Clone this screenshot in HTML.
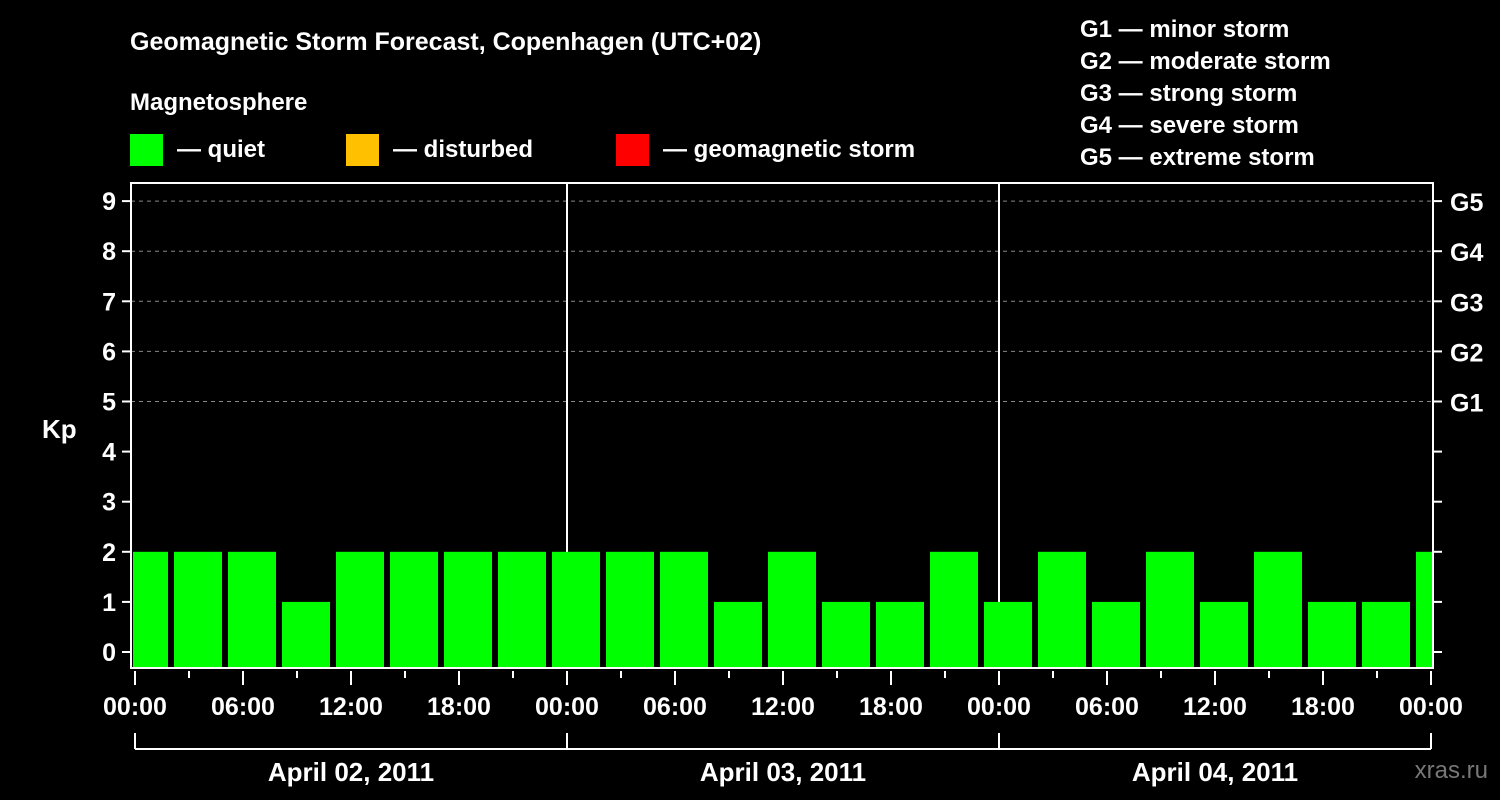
<!DOCTYPE html>
<html><head><meta charset="utf-8"><style>
body{margin:0;background:#000;}
svg{display:block;font-family:"Liberation Sans",sans-serif;font-weight:bold;}
</style></head><body>
<svg id="chart" width="1500" height="800" viewBox="0 0 1500 800">
<rect width="1500" height="800" fill="#000"/>
<text x="130" y="50" fill="#fff" font-size="25">Geomagnetic Storm Forecast, Copenhagen (UTC+02)</text>
<text x="130" y="110" fill="#fff" font-size="24">Magnetosphere</text>
<g><rect x="130" y="134" width="33" height="32" fill="#00ff00"/><text x="177" y="157" fill="#fff" font-size="24">— quiet</text></g>
<g><rect x="346" y="134" width="33" height="32" fill="#ffc000"/><text x="393" y="157" fill="#fff" font-size="24">— disturbed</text></g>
<g><rect x="616" y="134" width="33" height="32" fill="#ff0000"/><text x="663" y="157" fill="#fff" font-size="24">— geomagnetic storm</text></g>
<g fill="#fff" font-size="24">
<text x="1080" y="37">G1 — minor storm</text><text x="1080" y="69">G2 — moderate storm</text><text x="1080" y="101">G3 — strong storm</text><text x="1080" y="133">G4 — severe storm</text><text x="1080" y="165">G5 — extreme storm</text>
</g>
<text x="42" y="438" fill="#fff" font-size="26">Kp</text>
<text x="1488" y="778" fill="#777" font-size="24" text-anchor="end" font-weight="normal">xras.ru</text>
<defs><clipPath id="pc"><rect x="133" y="183" width="1299" height="485"/></clipPath></defs>
<g id="grid"></g><g id="bars" clip-path="url(#pc)"></g><g id="axes"></g>
</svg>
<script>
const hours=[0.5,3.5,6.5,9.5,12.5,15.5,18.5,21.5,24.5,27.5,30.5,33.5,36.5,39.5,42.5,45.5,48.5,51.5,54.5,57.5,60.5,63.5,66.5,69.5,72.5];
const kpValues=[2,2,2,1,2,2,2,2,2,2,2,1,2,1,1,2,1,2,1,2,1,2,1,1,2];
const yTicks=[0,1,2,3,4,5,6,7,8,9];
const gLabels=["G1","G2","G3","G4","G5"];
const gLevels=[5,6,7,8,9];
const xTickLabels=["00:00","06:00","12:00","18:00","00:00","06:00","12:00","18:00","00:00","06:00","12:00","18:00","00:00"];
const dayLabels=["April 02, 2011","April 03, 2011","April 04, 2011"];
const NS="http://www.w3.org/2000/svg";
const X0=135,PXH=18,Y0=652,PXK=50.1,L=131,R=1433,T=183,B=668;
const xs=h=>X0+h*PXH, ys=k=>Y0-k*PXK;
function mk(t,a,p){const e=document.createElementNS(NS,t);for(const k in a)e.setAttribute(k,a[k]);p.appendChild(e);return e;}
const grid=document.getElementById('grid'),bars=document.getElementById('bars'),axes=document.getElementById('axes');
gLevels.forEach(k=>{const l=mk('line',{x1:L,x2:R,y1:ys(k),y2:ys(k),stroke:'#888','stroke-dasharray':'4,4','stroke-width':1},grid);

});
[1,2].forEach(d=>{const l=mk('line',{x1:xs(d*24),x2:xs(d*24),y1:T,y2:B,stroke:'#fff','stroke-width':2},grid);

});
hours.forEach((h,i)=>{const r=mk('rect',{x:xs(h)-24,width:48,y:ys(kpValues[i]),height:B-ys(kpValues[i]),fill:kpValues[i]>=5?'#ff0000':kpValues[i]>=4?'#ffc000':'#00ff00'},bars);

});
const fr=mk('rect',{x:L,y:T,width:R-L,height:B-T,fill:'none',stroke:'#fff','stroke-width':2},axes);


yTicks.forEach(k=>{mk('line',{x1:122,x2:L,y1:ys(k),y2:ys(k),stroke:'#fff','stroke-width':2},axes);
mk('line',{x1:R,x2:1442,y1:ys(k),y2:ys(k),stroke:'#fff','stroke-width':2},axes);
const t=mk('text',{x:116,y:ys(k)+9,fill:'#fff','font-size':25,'text-anchor':'end'},axes);t.textContent=k;

});
gLevels.forEach((k,i)=>{const t=mk('text',{x:1450,y:ys(k)+10,fill:'#fff','font-size':25},axes);t.textContent=gLabels[i];

});
for(let h=0;h<=72;h+=3){const major=h%6===0;mk('line',{x1:xs(h),x2:xs(h),y1:671,y2:major?685:678,stroke:'#fff','stroke-width':2},axes);}
xTickLabels.forEach((s,i)=>{const t=mk('text',{x:xs(i*6),y:715,fill:'#fff','font-size':25,'text-anchor':'middle'},axes);t.textContent=s;

});
mk('line',{x1:xs(0),x2:xs(72),y1:749,y2:749,stroke:'#fff','stroke-width':2},axes);
for(let d=0;d<=3;d++)mk('line',{x1:xs(d*24),x2:xs(d*24),y1:733,y2:749,stroke:'#fff','stroke-width':2},axes);
dayLabels.forEach((s,i)=>{const t=mk('text',{x:xs(i*24+12),y:781,fill:'#fff','font-size':26,'text-anchor':'middle'},axes);t.textContent=s;

});
</script>
</body></html>
